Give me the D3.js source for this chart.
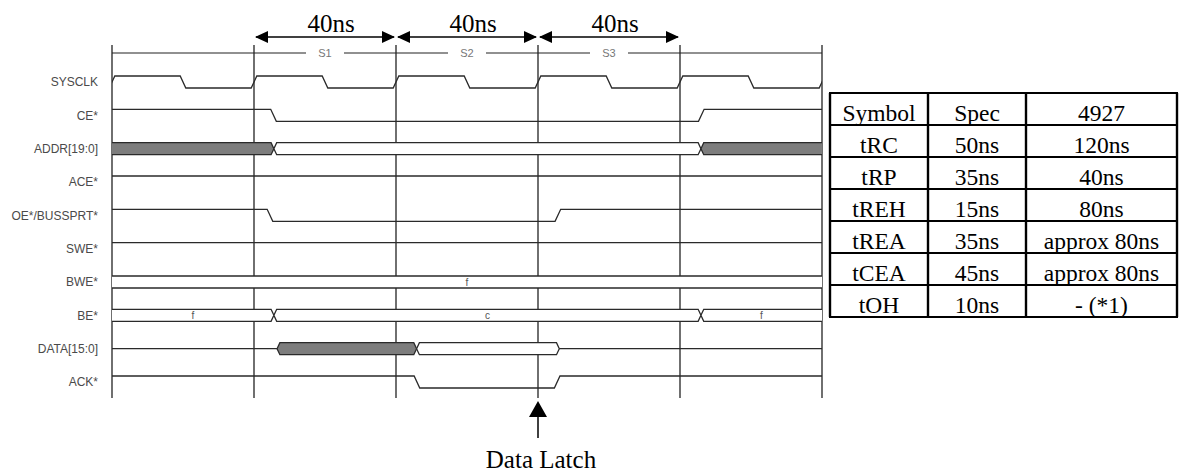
<!DOCTYPE html>
<html>
<head>
<meta charset="utf-8">
<script src="https://cdn.jsdelivr.net/npm/d3@7"></script>
<style>
  body { margin: 0; background: #fff; }
  svg { display: block; }
</style>
</head>
<body>
<svg id="chart" width="1180" height="475"></svg>
<script>
// signal names, top to bottom
const signals = ["SYSCLK", "CE*", "ADDR[19:0]", "ACE*", "OE*/BUSSPRT*", "SWE*", "BWE*", "BE*", "DATA[15:0]", "ACK*"];

// cycle boundaries in ns
const cycleTicks = [0, 40, 80, 120, 160, 200];

// states and their 40ns spans
const stateNames = ["S1", "S2", "S3"];
const stateStarts = [40, 80, 120];
const spanText = ["40ns", "40ns", "40ns"];

// digital signals: edges [ns, level]
const sysclkEdges = [[0, 1], [20, 0], [40, 1], [60, 0], [80, 1], [100, 0], [120, 1], [140, 0], [160, 1], [180, 0], [200, 1]];
const ceEdges = [[45.5, 0], [166, 1]];
const aceEdges = [];
const oeEdges = [[44.5, 0], [125.6, 1]];
const sweEdges = [];
const ackEdges = [[85.9, 0], [125.4, 1]];

// bus signals: [from ns, to ns, kind, text]  kind: x = unknown, v = valid, z = float
const addrBus = [[-5, 45.6, "x", ""], [45.6, 165.9, "v", ""], [165.9, 205, "x", ""]];
const bweBus = [[-5, 205, "v", "f"]];
const beBus = [[-5, 45.6, "v", "f"], [45.6, 165.9, "v", "c"], [165.9, 205, "v", "f"]];
const dataBus = [[-5, 46.5, "z", ""], [46.5, 85.8, "x", ""], [85.8, 126, "v", ""], [126, 205, "z", ""]];

// latch point
const latchAt = 120;
const latchText = "Data Latch";

// timing table
const tableHead = ["Symbol", "Spec", "4927"];
const tableSymbols = ["tRC", "tRP", "tREH", "tREA", "tCEA", "tOH"];
const tableSpec = ["50ns", "35ns", "15ns", "35ns", "45ns", "10ns"];
const table4927 = ["120ns", "40ns", "80ns", "approx 80ns", "approx 80ns", "- (*1)"];

const svg = d3.select("#chart");

const x = d3.scaleLinear().domain([0, 200]).range([112, 822]);
const y = d3.scalePoint().domain(signals).range([82, 382]);
const half = 6;   // half height of a signal
const ramp = 2.8; // half width of an edge

const lineCol = "#222";
const waveCol = "#2a2a2a";

// --- grid lines
svg.append("g")
  .selectAll("line")
  .data(cycleTicks)
  .join("line")
  .attr("x1", d => x(d)).attr("x2", d => x(d))
  .attr("y1", 45).attr("y2", 398)
  .attr("stroke", lineCol)
  .attr("stroke-width", 1.3);

// --- state line on top with labels
svg.append("line")
  .attr("x1", x(0)).attr("x2", x(200))
  .attr("y1", 53).attr("y2", 53)
  .attr("stroke", lineCol)
  .attr("stroke-width", 1.2);

const st = svg.append("g")
  .selectAll("g")
  .data(stateNames)
  .join("g")
  .attr("transform", (d, i) => "translate(" + (x(stateStarts[i]) + x(stateStarts[i] + 40)) / 2 + ",53)");

st.append("rect")
  .attr("x", -19).attr("y", -4).attr("width", 38).attr("height", 8)
  .attr("fill", "#fff");

st.append("text")
  .text(d => d)
  .attr("text-anchor", "middle")
  .attr("dy", "0.35em")
  .attr("font-family", "Liberation Sans, Arial, sans-serif")
  .attr("font-size", "11px")
  .attr("fill", "#777");

// --- 40ns arrows
const ar = svg.append("g")
  .selectAll("g")
  .data(stateStarts)
  .join("g");

ar.append("line")
  .attr("x1", d => x(d) + 2).attr("x2", d => x(d + 40) - 2)
  .attr("y1", 37).attr("y2", 37)
  .attr("stroke", "#000")
  .attr("stroke-width", 1.5);

ar.append("path")
  .attr("d", d => {
    const a = x(d) + 1, b = x(d + 40) - 1;
    return "M" + a + ",37L" + (a + 13) + ",31L" + (a + 13) + ",43Z" +
           "M" + b + ",37L" + (b - 13) + ",31L" + (b - 13) + ",43Z";
  })
  .attr("fill", "#000");

ar.append("text")
  .text((d, i) => spanText[i])
  .attr("x", d => (x(d) + x(d + 40)) / 2 + 6)
  .attr("y", 32)
  .attr("text-anchor", "middle")
  .attr("font-family", "Liberation Serif, Times New Roman, serif")
  .attr("font-size", "25px")
  .attr("fill", "#000");

// --- signal labels
svg.append("g")
  .selectAll("text")
  .data(signals)
  .join("text")
  .text(d => d)
  .attr("x", 98)
  .attr("y", d => y(d))
  .attr("dy", "0.35em")
  .attr("text-anchor", "end")
  .attr("font-family", "Liberation Sans, Arial, sans-serif")
  .attr("font-size", "12px")
  .attr("fill", "#4a4a4a");

// --- waveforms
svg.append("clipPath").attr("id", "clip")
  .append("rect")
  .attr("x", x(0)).attr("y", 0)
  .attr("width", x(200) - x(0)).attr("height", 475);

const waves = svg.append("g").attr("clip-path", "url(#clip)");

function digital(name, startLevel, edges) {
  const mid = y(name);
  const lv = v => v ? mid - half : mid + half;
  let cur = startLevel;
  const pts = [[x(-5), lv(cur)]];
  edges.forEach(([t, v]) => {
    pts.push([x(t) - ramp, lv(cur)]);
    pts.push([x(t) + ramp, lv(v)]);
    cur = v;
  });
  pts.push([x(205), lv(cur)]);
  waves.append("path")
    .attr("d", d3.line()(pts))
    .attr("fill", "none")
    .attr("stroke", waveCol)
    .attr("stroke-width", 1.3);
}

function bus(name, segs) {
  const mid = y(name);
  const g = waves.append("g");
  segs.forEach(([t0, t1, kind, label]) => {
    const a = x(t0), b = x(t1);
    if (kind === "z") {
      g.append("line")
        .attr("x1", a).attr("x2", b)
        .attr("y1", mid).attr("y2", mid)
        .attr("stroke", waveCol)
        .attr("stroke-width", 1.3);
      return;
    }
    const pts = [[a, mid], [a + ramp, mid - half], [b - ramp, mid - half],
                 [b, mid], [b - ramp, mid + half], [a + ramp, mid + half]];
    g.append("path")
      .attr("d", d3.line()(pts) + "Z")
      .attr("fill", kind === "x" ? "#7d7d7d" : "#fff")
      .attr("stroke", waveCol)
      .attr("stroke-width", 1.3);
    if (label) {
      g.append("text")
        .text(label)
        .attr("x", (x(Math.max(t0, 0)) + x(Math.min(t1, 200))) / 2)
        .attr("y", mid)
        .attr("dy", "0.38em")
        .attr("text-anchor", "middle")
        .attr("font-family", "Liberation Sans, Arial, sans-serif")
        .attr("font-size", "10px")
        .attr("fill", "#555");
    }
  });
}

digital("SYSCLK", 0, sysclkEdges);
digital("CE*", 1, ceEdges);
bus("ADDR[19:0]", addrBus);
digital("ACE*", 1, aceEdges);
digital("OE*/BUSSPRT*", 1, oeEdges);
digital("SWE*", 1, sweEdges);
bus("BWE*", bweBus);
bus("BE*", beBus);
bus("DATA[15:0]", dataBus);
digital("ACK*", 1, ackEdges);

// --- data latch arrow
const lx = x(latchAt);
svg.append("line")
  .attr("x1", lx).attr("x2", lx)
  .attr("y1", 412).attr("y2", 438)
  .attr("stroke", "#000")
  .attr("stroke-width", 1.5);
svg.append("path")
  .attr("d", "M" + lx + ",401L" + (lx - 9) + ",417L" + (lx + 9) + ",417Z")
  .attr("fill", "#000");
svg.append("text")
  .text(latchText)
  .attr("x", lx + 3)
  .attr("y", 468)
  .attr("text-anchor", "middle")
  .attr("font-family", "Liberation Serif, Times New Roman, serif")
  .attr("font-size", "25px")
  .attr("fill", "#000");

// --- table
const colEdges = [830, 928, 1026, 1177];
const rowsAll = [tableHead].concat(tableSymbols.map((s, i) => [s, tableSpec[i], table4927[i]]));
const ty = d3.scaleBand().domain(d3.range(rowsAll.length)).range([93, 317]);

const tb = svg.append("g");

tb.selectAll("line.h")
  .data(d3.range(rowsAll.length + 1))
  .join("line")
  .attr("class", "h")
  .attr("x1", colEdges[0] - 1).attr("x2", colEdges[3] + 1)
  .attr("y1", d => 93 + d * ty.step()).attr("y2", d => 93 + d * ty.step())
  .attr("stroke", "#000")
  .attr("stroke-width", 2.2);

tb.selectAll("line.v")
  .data(colEdges)
  .join("line")
  .attr("class", "v")
  .attr("x1", d => d).attr("x2", d => d)
  .attr("y1", 93).attr("y2", 317)
  .attr("stroke", "#000")
  .attr("stroke-width", 2.4);

rowsAll.forEach((r, i) => {
  tb.selectAll("text.r" + i)
    .data(r)
    .join("text")
    .attr("class", "r" + i)
    .text(d => d)
    .attr("x", (d, j) => (colEdges[j] + colEdges[j + 1]) / 2)
    .attr("y", ty(i) + 27.5)
    .attr("text-anchor", "middle")
    .attr("font-family", "Liberation Serif, Times New Roman, serif")
    .attr("font-size", "23.5px")
    .attr("fill", "#000");
});
</script>
</body>
</html>
